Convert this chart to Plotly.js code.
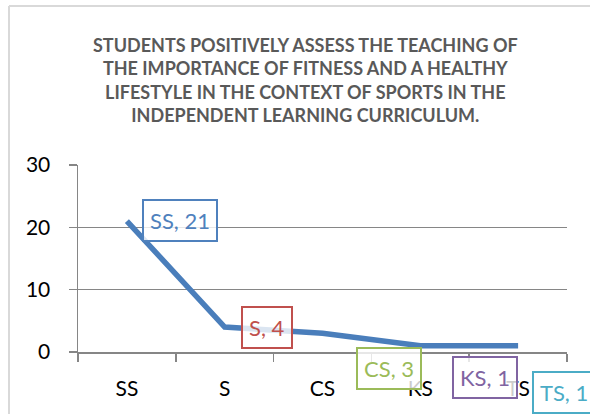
<!DOCTYPE html>
<html><head><meta charset="utf-8">
<script src="https://cdn.plot.ly/plotly-3.0.1.min.js"></script>
<style>html,body{margin:0;padding:0;background:#fff;}#chart{width:590px;height:414px;}</style>
</head><body><div id="chart"></div>
<script>
const categories = ["SS", "S", "CS", "KS", "TS"];
const values = [21, 4, 3, 1, 1];
const labelColors = ["#4F81BD", "#C0504D", "#9BBB59", "#8064A2", "#4BACC6"];
const labelShiftX = [53, 42, 66, 65, 46];
const labelShiftY = [1, 0, -35, -32, -47];
const titleText = "STUDENTS POSITIVELY ASSESS THE TEACHING OF<br>THE IMPORTANCE OF FITNESS AND A HEALTHY<br>LIFESTYLE IN THE CONTEXT OF SPORTS IN THE<br>INDEPENDENT LEARNING CURRICULUM.";

const FONT = "Lato, 'Open Sans', sans-serif";

const trace = {
  x: categories, y: values, type: "scatter", mode: "lines",
  line: {color: "#4A7EBB", width: 5.5},
  hoverinfo: "none", cliponaxis: false
};

const annotations = categories.map((c, i) => ({
  x: c, y: values[i], xref: "x", yref: "y",
  text: c + ", " + values[i], showarrow: false,
  xshift: labelShiftX[i], yshift: labelShiftY[i],
  font: {family: FONT, size: 22, color: labelColors[i]},
  bordercolor: labelColors[i], borderwidth: 2, borderpad: 6,
  bgcolor: "rgba(255,255,255,0.8)"
}));

annotations.push({
  text: titleText, xref: "paper", yref: "paper",
  x: (305 - 78) / 489, y: (352 - 32) / 187, xanchor: "center", yanchor: "top",
  showarrow: false, align: "center",
  font: {family: FONT, size: 18, color: "#595959", weight: "bold"}
});

const layout = {
  width: 590, height: 414,
  margin: {l: 78, r: 23, t: 165, b: 62},
  paper_bgcolor: "#fff", plot_bgcolor: "#fff",
  showlegend: false,
  font: {family: FONT, size: 21, color: "#000"},
  xaxis: {
    type: "category", range: [-0.5, 4.5], tickson: "boundaries",
    showline: true, linecolor: "#868686", linewidth: 1.5,
    ticks: "outside", ticklen: 8, tickcolor: "#868686", tickwidth: 1.5,
    showgrid: false, zeroline: false, ticklabelstandoff: 17,
    tickfont: {family: FONT, size: 21, color: "#000"}
  },
  yaxis: {
    range: [0, 30], tickvals: [0, 10, 20, 30],
    showline: true, linecolor: "#868686", linewidth: 1.5,
    ticks: "outside", ticklen: 8, tickcolor: "#868686", tickwidth: 1.5,
    showgrid: true, gridcolor: "#868686", gridwidth: 1.5, zeroline: false,
    ticklabelstandoff: 14,
    tickfont: {family: FONT, size: 21, color: "#000"}
  },
  shapes: [
    {type: "line", xref: "paper", yref: "paper", x0: (9 - 78) / 489, x1: 1.2, y0: (352 - 6) / 187, y1: (352 - 6) / 187, line: {color: "#D9D9D9", width: 2}},
    {type: "line", xref: "paper", yref: "paper", x0: (9 - 78) / 489, x1: (9 - 78) / 489, y0: (352 - 6) / 187, y1: -0.5, line: {color: "#D9D9D9", width: 2}}
  ],
  annotations: annotations
};

Plotly.newPlot("chart", [trace], layout, {staticPlot: true, displayModeBar: false});
</script></body></html>
